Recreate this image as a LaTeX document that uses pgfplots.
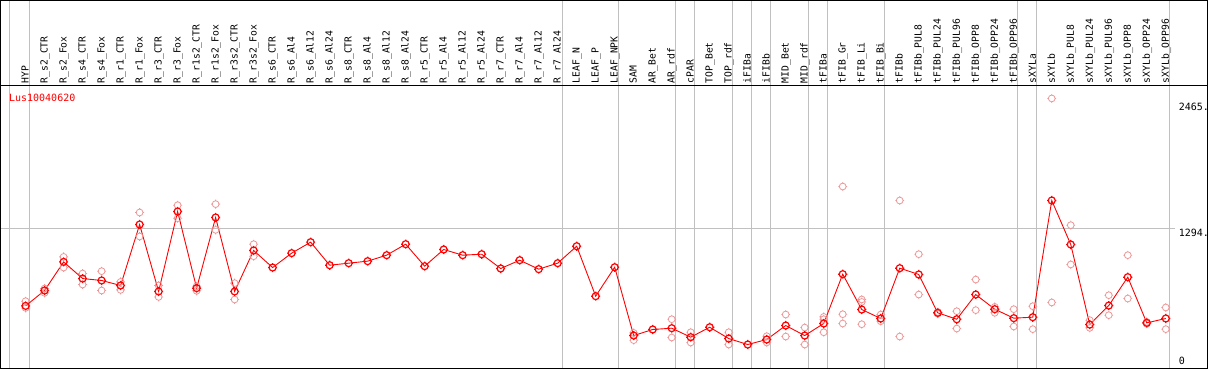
\documentclass[border=0pt]{standalone}
\usepackage{pgfplots}
\pgfplotsset{compat=1.18}
\usepackage{fontspec}
\setmonofont{DejaVu Sans Mono}
\definecolor{faint}{RGB}{236,150,150}
\definecolor{sep}{RGB}{192,192,192}
\pgfdeclareplotmark{gear}{%
  \pgfpathcircle{\pgfpoint{0pt}{0pt}}{\pgfplotmarksize}%
  \pgfpathmoveto{\pgfpoint{0pt}{\pgfplotmarksize}}\pgfpathlineto{\pgfpoint{0pt}{1.3\pgfplotmarksize}}%
  \pgfpathmoveto{\pgfpoint{0pt}{-\pgfplotmarksize}}\pgfpathlineto{\pgfpoint{0pt}{-1.3\pgfplotmarksize}}%
  \pgfpathmoveto{\pgfpoint{\pgfplotmarksize}{0pt}}\pgfpathlineto{\pgfpoint{1.3\pgfplotmarksize}{0pt}}%
  \pgfpathmoveto{\pgfpoint{-\pgfplotmarksize}{0pt}}\pgfpathlineto{\pgfpoint{-1.3\pgfplotmarksize}{0pt}}%
  \pgfusepathqstroke}
\pgfplotstableread{
x y
0 565
1 709
2 977
3 821
4 803
5 756
6 1327
7 700
8 1449
9 731
10 1393
11 700
12 1084
13 924
14 1059
15 1162
16 946
17 965
18 984
19 1040
20 1143
21 937
22 1093
23 1040
24 1049
25 915
26 993
27 909
28 965
29 1124
30 656
31 927
32 287
33 344
34 356
35 272
36 365
37 259
38 203
39 250
40 381
41 287
42 400
43 862
44 531
45 447
46 918
47 859
48 500
49 440
50 671
51 534
52 450
53 459
54 1552
55 1140
56 390
57 568
58 834
59 406
60 447
}\maintable
\pgfplotstableread{
x y
0 609
0 546
1 728
1 687
2 1024
2 924
3 868
3 765
4 890
4 709
5 790
5 715
6 1440
6 1215
7 756
7 649
8 1508
8 1386
9 749
9 706
10 1518
10 1277
11 778
11 625
12 1143
12 1030
32 312
32 244
34 440
34 269
35 318
35 222
37 318
37 203
39 281
39 222
40 484
40 278
41 362
41 203
42 462
42 440
42 318
43 1683
43 487
43 400
44 625
44 602
44 393
45 484
45 421
46 1552
46 278
47 1049
47 671
48 508
48 492
49 515
49 353
50 812
50 525
51 556
51 500
52 534
52 372
53 562
53 347
54 2508
54 597
55 1321
55 953
56 431
56 359
57 665
57 478
58 1040
58 634
59 415
59 397
60 550
60 347
}\fainttable
\begin{document}
\begin{tikzpicture}
\begin{axis}[
  scale only axis,
  width=1207pt, height=282.3pt,
  xmin=-1.316, xmax=62.21,
  ymin=-18.7, ymax=2625.8,
  clip=false,
  axis line style={black, line width=1.2pt},
  ytick=\empty,
  xtick={0,...,60},
  major tick length=0pt,
  xticklabel pos=upper,
  xticklabels={HYP,R\_s2\_CTR,R\_s2\_Fox,R\_s4\_CTR,R\_s4\_Fox,R\_r1\_CTR,R\_r1\_Fox,R\_r3\_CTR,R\_r3\_Fox,R\_r1s2\_CTR,R\_r1s2\_Fox,R\_r3s2\_CTR,R\_r3s2\_Fox,R\_s6\_CTR,R\_s6\_Al4,R\_s6\_Al12,R\_s6\_Al24,R\_s8\_CTR,R\_s8\_Al4,R\_s8\_Al12,R\_s8\_Al24,R\_r5\_CTR,R\_r5\_Al4,R\_r5\_Al12,R\_r5\_Al24,R\_r7\_CTR,R\_r7\_Al4,R\_r7\_Al12,R\_r7\_Al24,LEAF\_N,LEAF\_P,LEAF\_NPK,SAM,AR\_Bet,AR\_rdf,cPAR,TOP\_Bet,TOP\_rdf,iFIBa,iFIBb,MID\_Bet,MID\_rdf,tFIBa,tFIB\_Gr,tFIB\_Li,tFIB\_Bi,tFIBb,tFIBb\_PUL8,tFIBb\_PUL24,tFIBb\_PUL96,tFIBb\_OPP8,tFIBb\_OPP24,tFIBb\_OPP96,sXYLa,sXYLb,sXYLb\_PUL8,sXYLb\_PUL24,sXYLb\_PUL96,sXYLb\_OPP8,sXYLb\_OPP24,sXYLb\_OPP96},
  xticklabel style={xshift=3pt, yshift=2.5pt, rotate=90, anchor=base west, inner sep=0pt, font=\ttfamily\fontsize{9.7}{10}\selectfont},
]
% separators
\foreach \s in {-0.842,0.21,28.26,31.21,34.21,35.21,37.21,38.21,39.21,41.21,42.21,45.21,52.21,53.21,60.21}{
  \edef\tmp{\noexpand\draw[sep, line width=1pt] (axis cs:\s,-18.7) -- (axis cs:\s,2625.8) -- ([yshift=85.2pt]axis cs:\s,2625.8);}\tmp
}
\draw[sep, line width=1pt] (axis cs:-1.316,1294) -- (axis cs:60.5,1294);
% frame
\draw[black, line width=1.2pt] (rel axis cs:0,0) rectangle (rel axis cs:1,1.302);
\draw[black, line width=1.2pt] (rel axis cs:0,1) -- (rel axis cs:1,1);
% labels
\node[anchor=north west, inner sep=0pt, text=red, font=\ttfamily\fontsize{10}{10}\selectfont] at (axis cs:-0.88,2555) {Lus10040620};
\node[anchor=north west, inner sep=0pt, font=\ttfamily\fontsize{10}{10}\selectfont] at (axis cs:60.68,2465) {2465.};
\node[anchor=north west, inner sep=0pt, yshift=-1pt, font=\ttfamily\fontsize{10}{10}\selectfont] at (axis cs:60.68,1294) {1294.};
\node[anchor=south west, inner sep=0pt, yshift=1pt, font=\ttfamily\fontsize{10}{10}\selectfont] at (axis cs:60.68,0) {0};
\addplot[only marks, mark=gear, mark size=3.4pt, faint, line width=0.8pt] table[x=x,y=y] {\fainttable};
\addplot[red, line width=0.9pt, mark=gear, mark size=3.5pt, mark options={line width=1.2pt}] table[x=x,y=y] {\maintable};
\end{axis}
\end{tikzpicture}
\end{document}
